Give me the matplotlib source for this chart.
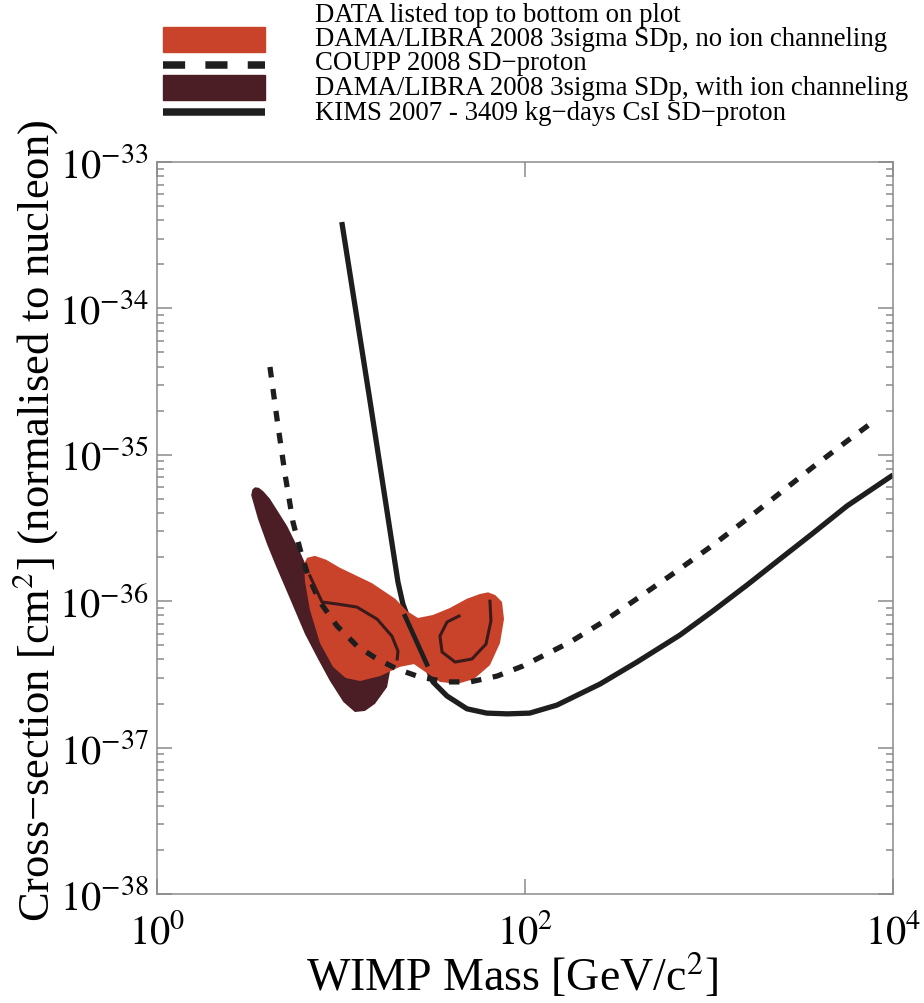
import matplotlib
matplotlib.use("Agg")
import matplotlib.pyplot as plt
from matplotlib.patches import Rectangle
from matplotlib.lines import Line2D
from matplotlib.ticker import FixedLocator, NullLocator, LogLocator, NullFormatter

plt.rcParams['font.family'] = ['Liberation Serif', 'DejaVu Serif']
plt.rcParams['mathtext.fontset'] = 'stix'

# KIMS 2007 SD-proton limit
kims_mass = [10.1, 14.4, 20.4, 21.7, 24.3, 27.6, 31.6, 37.7, 48.4, 62, 80, 106, 149,
             256, 406, 695, 1050, 1610, 2430, 3680, 5620, 10000]
kims_sigma = [3.89e-34, 2.30e-35, 1.35e-36, 9.57e-37, 6.46e-37, 4.36e-37, 2.81e-37,
              2.25e-37, 1.84e-37, 1.72e-37, 1.70e-37, 1.72e-37, 1.95e-37, 2.72e-37,
              3.84e-37, 5.87e-37, 8.57e-37, 1.29e-36, 1.94e-36, 2.92e-36, 4.47e-36, 7.28e-36]

# COUPP 2008 SD-proton limit
coupp_mass = [4.11, 4.49, 4.96, 5.48, 5.99, 6.62, 7.69, 9.51, 12.2, 15.7, 20.2, 26.9,
              37.7, 50.3, 70.5, 97.5, 176, 265, 406, 614, 1052, 1609, 2432, 3675, 5623, 8190]
coupp_sigma = [3.98e-35, 1.76e-35, 7.40e-36, 3.48e-36, 2.27e-36, 1.49e-36, 9.88e-37,
               6.78e-37, 4.95e-37, 4.03e-37, 3.44e-37, 3.03e-37, 2.81e-37, 2.81e-37,
               3.08e-37, 3.61e-37, 5.26e-37, 7.21e-37, 1.04e-36, 1.49e-36, 2.42e-36,
               3.64e-36, 5.48e-36, 8.26e-36, 1.24e-35, 1.76e-35]

# DAMA/LIBRA 3sigma region, with ion channeling
dama_ch_mass = [3.25, 3.30, 3.41, 3.58, 3.80, 4.11, 5.09, 5.99, 6.96, 8.71, 12.7, 18.9,
                17.8, 15.3, 13.5, 11.9, 10.3, 8.71, 7.50, 6.37, 5.28, 4.38, 3.96, 3.54]
dama_ch_sigma = [5.3e-36, 5.8e-36, 6.0e-36, 5.95e-36, 5.6e-36, 5.0e-36, 3.27e-36,
                 2.17e-36, 1.42e-36, 7.55e-37, 4.71e-37, 3.90e-37, 2.59e-37, 1.99e-37,
                 1.78e-37, 1.75e-37, 2.05e-37, 2.85e-37, 4.03e-37, 5.97e-37, 1.04e-36,
                 1.80e-36, 2.46e-36, 3.64e-36]

# DAMA/LIBRA 3sigma region, no ion channeling
dama_mass = [6.29, 6.55, 7.22, 8.3, 9.88, 14.7, 19.7, 22.8, 26.2, 31.6, 39.1, 48.4, 56.9,
             63.0, 69.0, 75.0, 76.9, 73.1, 64.5, 52.8, 42.7, 34.5, 29.3, 24.9, 20.9,
             16.3, 12.7, 10.6, 9.05, 7.69, 6.78, 6.37]
dama_sigma = [1.80e-36, 1.98e-36, 2.04e-36, 1.92e-36, 1.69e-36, 1.33e-36, 1.04e-36,
              8.57e-37, 7.68e-37, 8.05e-37, 8.99e-37, 1.04e-36, 1.12e-36, 1.15e-36,
              1.10e-36, 9.88e-37, 7.55e-37, 5.17e-37, 3.66e-37, 2.94e-37, 2.72e-37,
              2.81e-37, 3.23e-37, 3.72e-37, 3.56e-37, 3.08e-37, 2.85e-37, 2.99e-37,
              3.56e-37, 5.17e-37, 8.71e-37, 1.37e-36]

# inner contours of the no-channeling region
inner1_mass = [6.78, 7.88, 9.51, 12.2, 15.7, 18.9, 20.4, 20.2]
inner1_sigma = [1.49e-36, 9.88e-37, 9.57e-37, 9.12e-37, 7.55e-37, 5.78e-37, 4.57e-37, 4.03e-37]
inner2_mass = [64.5, 65.3, 61.4, 51.5, 41.7, 35.4, 34.5, 37.7, 43.8]
inner2_sigma = [1.00e-36, 7.34e-37, 5.10e-37, 4.03e-37, 3.84e-37, 4.50e-37, 5.78e-37,
                7.21e-37, 7.92e-37]
neck_mass = [22.3, 29.3]
neck_sigma = [7.9e-37, 3.7e-37]

xticks = [1, 100, 10000]
xticklabels = [r'$10^{0}$', r'$10^{2}$', r'$10^{4}$']
yticks = [1e-38, 1e-37, 1e-36, 1e-35, 1e-34, 1e-33]
yticklabels = [r'$10^{-38}$', r'$10^{-37}$', r'$10^{-36}$', r'$10^{-35}$',
               r'$10^{-34}$', r'$10^{-33}$']

legend_labels = ['DATA listed top to bottom on plot',
                 'DAMA/LIBRA 2008 3sigma SDp, no ion channeling',
                 'COUPP 2008 SD\u2212proton',
                 'DAMA/LIBRA 2008 3sigma SDp, with ion channeling',
                 'KIMS 2007 - 3409 kg\u2212days CsI SD\u2212proton']

red = '#c9432b'
dark = '#4a1e24'
ink = '#1e1e1e'
axcol = '#8a8a8a'

W, H = 924, 1004
fig = plt.figure(figsize=(W / 100, H / 100), dpi=100)
ax = fig.add_axes([157 / W, 1 - 895 / H, 736 / W, 732 / H])
ax.set_xscale('log')
ax.set_yscale('log')

ax.fill(dama_ch_mass, dama_ch_sigma, color=dark, lw=0, zorder=1)
ax.plot(kims_mass, kims_sigma, color=ink, lw=3.8, solid_capstyle='butt',
        solid_joinstyle='round', zorder=2)
ax.fill(dama_mass, dama_sigma, color=red, lw=0, zorder=3)
ax.plot(coupp_mass, coupp_sigma, color=ink, lw=3.8, linestyle=(0, (2.0, 2.2)),
        dash_capstyle='butt', zorder=4)
ax.plot(inner1_mass, inner1_sigma, color='#3a1a1a', lw=2.2, solid_joinstyle='round', zorder=5)
ax.plot(inner2_mass, inner2_sigma, color='#3a1a1a', lw=2.2, solid_joinstyle='round', zorder=5)
ax.plot(neck_mass, neck_sigma, color=ink, lw=3.4, zorder=5)

ax.set_xlim(1, 1e4)
ax.set_ylim(1e-38, 1e-33)
ax.xaxis.set_major_locator(FixedLocator(xticks))
ax.xaxis.set_minor_locator(NullLocator())
ax.set_xticklabels(xticklabels)
ax.yaxis.set_major_locator(FixedLocator(yticks))
ax.yaxis.set_minor_locator(LogLocator(base=10, subs=range(2, 10), numticks=20))
ax.yaxis.set_minor_formatter(NullFormatter())
ax.set_yticklabels(yticklabels)

ax.tick_params(which='both', direction='in', top=True, right=True, color=axcol,
               width=1.1, labelsize=29)
ax.tick_params(which='major', length=11)
ax.tick_params(which='minor', length=5)
ax.tick_params(axis='x', which='major', pad=14)
ax.tick_params(axis='y', which='major', pad=6)
for s in ax.spines.values():
    s.set_color(axcol)
    s.set_linewidth(1.1)

ax.set_xlabel('WIMP Mass [GeV/c$^2$]', fontsize=33)
ax.set_ylabel('Cross\u2212section [cm$^2$] (normalised to nucleon)', fontsize=32)
ax.xaxis.set_label_coords(0.482, -0.079)
ax.yaxis.set_label_coords(-0.132, 0.511)

# legend drawn by hand above the axes
def fx(px):
    return px / W

def fy(py):
    return 1 - py / H

fig.add_artist(Rectangle((fx(163), fy(53)), fx(102), 25 / H, color=red,
                         transform=fig.transFigure))
fig.add_artist(Rectangle((fx(163), fy(101)), fx(102), 25 / H, color=dark,
                         transform=fig.transFigure))
fig.add_artist(Line2D([fx(163), fx(265)], [fy(66), fy(66)], color=ink, lw=5.4,
                      linestyle=(0, (2.95, 2.7)), dash_capstyle='butt',
                      transform=fig.transFigure))
fig.add_artist(Line2D([fx(163), fx(265)], [fy(113), fy(113)], color=ink, lw=5.4,
                      solid_capstyle='butt', transform=fig.transFigure))
for i, lab in enumerate(legend_labels):
    fig.text(fx(315), fy(15 + 24.5 * i), lab, fontsize=19.3, va='center', ha='left')

fig.savefig('out.png', dpi=100)
